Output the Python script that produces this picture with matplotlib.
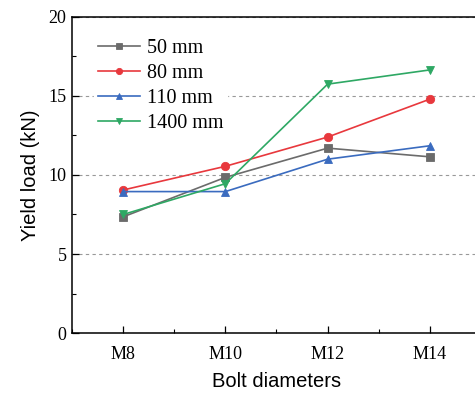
import numpy as np
import matplotlib.pyplot as plt
from matplotlib.ticker import MultipleLocator

categories = ["M8", "M10", "M12", "M14"]
labels = ["50 mm", "80 mm", "110 mm", "1400 mm"]
load_50 = [7.35, 9.85, 11.7, 11.15]
load_80 = [9.05, 10.55, 12.4, 14.8]
load_110 = [8.95, 8.95, 11.0, 11.85]
load_1400 = [7.5, 9.45, 15.75, 16.65]

series = [load_50, load_80, load_110, load_1400]
colors = ["#6b6b6b", "#e8383d", "#3a6bbf", "#2ea864"]
markers = ["s", "o", "^", "v"]

fig = plt.figure(figsize=(4.75, 3.94), dpi=100)
ax = fig.add_axes([0.1516, 0.1548, 0.8610, 0.8021])

x = np.arange(len(categories))
for vals, lab, c, m in zip(series, labels, colors, markers):
    ax.plot(x, vals, color=c, marker=m, markersize=6, lw=1.2, label=lab,
            markeredgewidth=0.6, markeredgecolor=c)

ax.set_xlim(-0.5, 3.5)
ax.set_ylim(0, 20)
ax.set_xticks(x)
ax.set_xticklabels(categories)
ax.xaxis.set_minor_locator(MultipleLocator(0.5))
ax.yaxis.set_major_locator(MultipleLocator(5))
ax.yaxis.set_minor_locator(MultipleLocator(2.5))
ax.grid(axis="y", ls=(0, (3, 3)), color="#999999", lw=0.8)
ax.set_axisbelow(True)

ax.tick_params(which="both", direction="in", top=False, right=False)
ax.tick_params(which="major", length=5, width=0.9)
ax.tick_params(which="minor", length=3, width=0.8)
for lbl in ax.get_xticklabels() + ax.get_yticklabels():
    lbl.set_fontfamily("Liberation Serif")
    lbl.set_fontsize(13)
ax.tick_params(axis="x", pad=9)
ax.tick_params(axis="y", pad=4)

for s in ax.spines.values():
    s.set_linewidth(1.1)

ax.set_xlabel("Bolt diameters", fontfamily="Liberation Sans", fontsize=14.5, labelpad=7)
ax.set_ylabel("Yield load (kN)", fontfamily="Liberation Sans", fontsize=14.5, labelpad=6)

leg = ax.legend(loc="upper left", bbox_to_anchor=(0.028, 0.975), frameon=True,
                prop={"family": "Liberation Serif", "size": 14.5},
                handlelength=2.1, handletextpad=0.35, labelspacing=0.3,
                markerscale=0.75, borderpad=0.2, fancybox=False)
leg.get_frame().set_edgecolor("white")
leg.get_frame().set_facecolor("white")
leg.get_frame().set_alpha(1)

fig.savefig("out.png", dpi=100)
